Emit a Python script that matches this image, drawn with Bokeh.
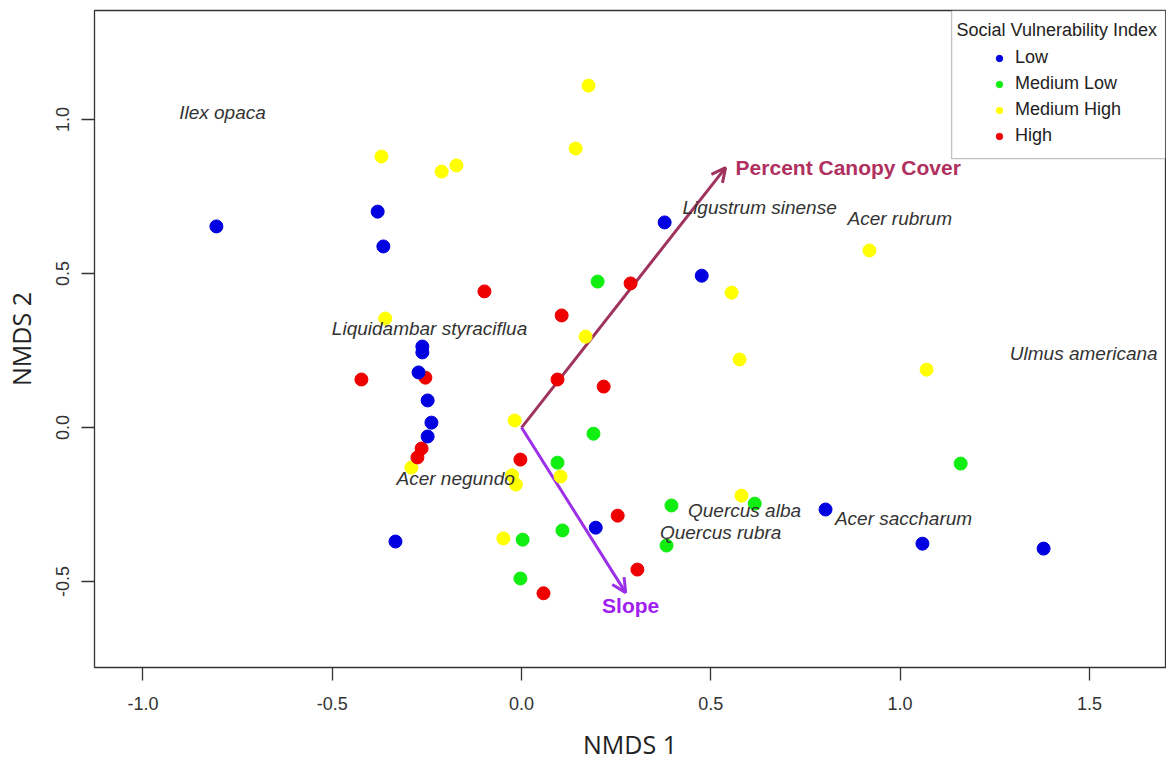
from bokeh.plotting import figure
from bokeh.models import (Range1d, FixedTicker, NumeralTickFormatter, Arrow, OpenHead,
                          Legend, LegendItem, BoxAnnotation, Label)
from bokeh.core.properties import value
from bokeh.embed import file_html
from bokeh.resources import INLINE

# ---------------- data ----------------
low_x = [-0.806, -0.380, -0.365, -0.262, -0.262, -0.272, -0.248, -0.238, -0.248, -0.333,
         0.196, 0.378, 0.476, 0.803, 1.059, 1.379]
low_y = [0.653, 0.701, 0.588, 0.263, 0.244, 0.179, 0.088, 0.016, -0.029, -0.370,
         -0.325, 0.666, 0.493, -0.266, -0.377, -0.393]

medlow_x = [0.201, 0.190, 0.095, 0.108, 0.003, -0.003, 0.396, 0.383, 0.616, 1.160]
medlow_y = [0.474, -0.020, -0.114, -0.334, -0.364, -0.490, -0.253, -0.383, -0.247, -0.117]

medhigh_x = [-0.370, -0.211, -0.172, 0.177, 0.143, -0.360, 0.169, 0.555, 0.576, 0.919,
             1.070, -0.018, 0.103, -0.025, -0.015, -0.048, -0.291, 0.581]
medhigh_y = [0.880, 0.831, 0.851, 1.110, 0.906, 0.354, 0.295, 0.438, 0.221, 0.575,
             0.188, 0.023, -0.159, -0.155, -0.185, -0.360, -0.130, -0.221]

high_x = [-0.098, 0.106, 0.288, 0.095, 0.217, -0.423, -0.254, -0.264, -0.275, -0.003,
          0.254, 0.306, 0.058]
high_y = [0.442, 0.364, 0.468, 0.156, 0.133, 0.156, 0.162, -0.068, -0.097, -0.104,
          -0.286, -0.461, -0.538]

species = ["Ilex opaca", "Ligustrum sinense", "Acer rubrum", "Ulmus americana",
           "Liquidambar styraciflua", "Acer negundo", "Quercus alba", "Quercus rubra",
           "Acer saccharum"]
species_x = [-0.790, 0.629, 0.999, 1.485, -0.243, -0.174, 0.589, 0.526, 1.009]
species_y = [1.023, 0.714, 0.679, 0.240, 0.321, -0.166, -0.269, -0.341, -0.295]

env_names = ["Percent Canopy Cover", "Slope"]
env_x = [0.539, 0.275]
env_y = [0.844, -0.536]

x_ticks = [-1.0, -0.5, 0.0, 0.5, 1.0, 1.5]
y_ticks = [-0.5, 0.0, 0.5, 1.0]

group_labels = ["Low", "Medium Low", "Medium High", "High"]
legend_title = "Social Vulnerability Index"

# ---------------- figure ----------------
X0, X1 = -1.128, 1.701
Y0, Y1 = -0.779, 1.354

p = figure(width=1166, height=766, output_backend="svg", toolbar_location=None,
           x_range=Range1d(X0, X1), y_range=Range1d(Y0, Y1),
           min_border_left=94, min_border_right=1, min_border_top=10, min_border_bottom=99)
p.background_fill_color = "white"
p.border_fill_color = "white"
p.outline_line_color = "#333333"
p.outline_line_width = 1.3
p.xgrid.visible = False
p.ygrid.visible = False

for ax in (p.xaxis[0], p.yaxis[0]):
    ax.axis_line_color = None
    ax.major_tick_line_color = "#333333"
    ax.major_tick_line_width = 1.3
    ax.major_tick_out = 13
    ax.major_tick_in = 0
    ax.minor_tick_line_color = None
    ax.major_label_text_font = "Liberation Sans"
    ax.major_label_text_font_size = "18px"
    ax.major_label_text_color = "#333333"
    ax.formatter = NumeralTickFormatter(format="0.0")
    ax.axis_label_text_font = "Open Sans"
    ax.axis_label_text_font_size = "25px"
    ax.axis_label_text_font_style = "normal"
    ax.axis_label_text_color = "#222222"

p.xaxis[0].ticker = FixedTicker(ticks=x_ticks)
p.yaxis[0].ticker = FixedTicker(ticks=y_ticks)
p.xaxis[0].axis_label = "NMDS 1"
p.yaxis[0].axis_label = "NMDS 2"
p.xaxis[0].major_label_standoff = 16
p.yaxis[0].major_label_standoff = 12
p.yaxis[0].major_label_orientation = "vertical"
p.xaxis[0].axis_label_standoff = 14
p.yaxis[0].axis_label_standoff = 16

# arrows (below points)
arrow_cols = ["#A0325E", "#9B30E8"]
text_cols = ["#B03060", "#A020F0"]
for i in range(len(env_names)):
    arr = Arrow(x_start=0, y_start=0, x_end=env_x[i], y_end=env_y[i],
                line_color=arrow_cols[i], line_width=3, level="underlay",
                end=OpenHead(size=14, line_color=arrow_cols[i], line_width=3))
    p.add_layout(arr)

# points
r_mh = p.scatter(medhigh_x, medhigh_y, size=13, fill_color="#FFFF00", line_color="#FFFF00")
r_ml = p.scatter(medlow_x, medlow_y, size=13, fill_color="#11EE11", line_color="#11EE11")
r_hi = p.scatter(high_x, high_y, size=13, fill_color="#EE0000", line_color="#EE0000")
r_lo = p.scatter(low_x, low_y, size=13, fill_color="#0000E0", line_color="#0000E0")

# species labels
p.text(x=species_x, y=species_y, text=species, text_font=value("Liberation Sans"),
       text_font_style="italic", text_font_size="19px", text_align="center",
       text_baseline="middle", text_color="#333333")

# env labels
p.text(x=[env_x[0]], y=[env_y[0]], text=[env_names[0]], text_font=value("Liberation Sans"),
       text_font_style="bold", text_font_size="21px", text_align="left",
       text_baseline="middle", text_color=text_cols[0], x_offset=10)
p.text(x=[env_x[1]], y=[env_y[1]], text=[env_names[1]], text_font=value("Liberation Sans"),
       text_font_style="bold", text_font_size="21px", text_align="center",
       text_baseline="middle", text_color=text_cols[1], x_offset=5, y_offset=13)

# legend box + title
box = BoxAnnotation(left=1.136, right=X1, bottom=0.873, top=Y1,
                    fill_color="white", fill_alpha=1.0, line_color="#333333", line_width=1.3)
p.add_layout(box)
p.add_layout(Label(x=1.149, y=1.292, text=legend_title, text_font="Liberation Sans",
                   text_font_size="18px", text_baseline="middle", text_color="#222222"))

legend = Legend(items=[LegendItem(label=group_labels[0], renderers=[r_lo]),
                       LegendItem(label=group_labels[1], renderers=[r_ml]),
                       LegendItem(label=group_labels[2], renderers=[r_mh]),
                       LegendItem(label=group_labels[3], renderers=[r_hi])],
                location=(897, 521), padding=0, margin=0, spacing=5,
                glyph_width=16, glyph_height=20, label_height=20, label_standoff=8,
                label_text_font="Liberation Sans", label_text_font_size="18px",
                label_text_color="#222222", border_line_color=None,
                background_fill_alpha=0.0)
p.add_layout(legend)

open("out.html", "w").write(file_html(p, INLINE))
